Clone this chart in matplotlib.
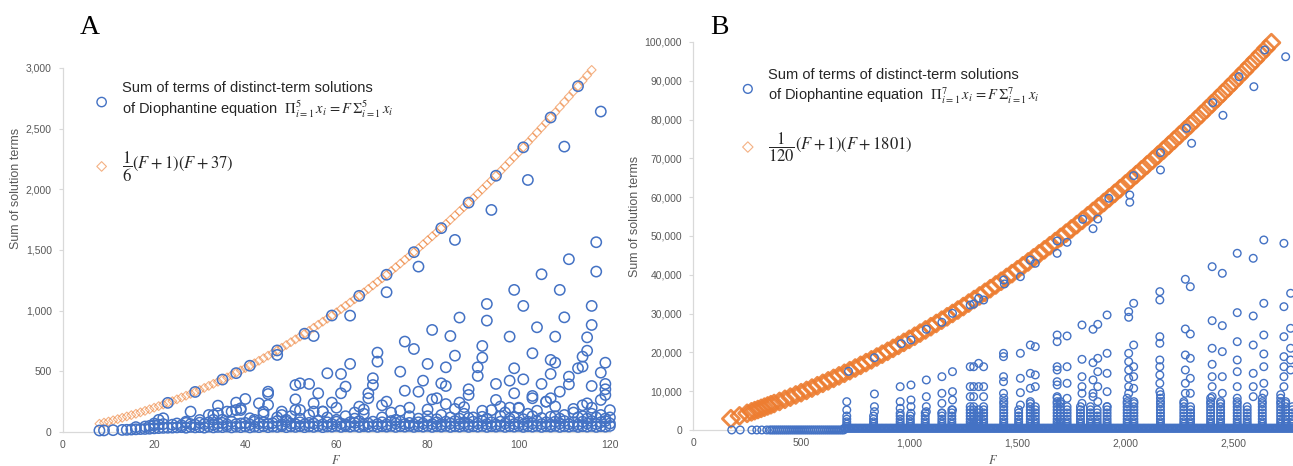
import numpy as np
import matplotlib
matplotlib.use("Agg")
import matplotlib.pyplot as plt
from matplotlib.ticker import FuncFormatter

plt.rcParams["font.family"] = ["Liberation Sans", "DejaVu Sans"]
plt.rcParams["mathtext.fontset"] = "stix"

BLUE = "#4472C4"
ORANGE = "#ED7D31"
GREY = "#595959"
AXIS = "#D9D9D9"
nan = np.nan

# ---------------- panel A (5 terms) ----------------
# orange diamonds: (F+1)(F+37)/6 for F = 8..116
a_curve_F = list(range(8, 117))
a_curve_sum = [68, 77, 86, 96, 106, 117, 128, 139, 150, 162,
               174, 187, 200, 213, 226, 240, 254, 269, 284, 299,
               314, 330, 346, 363, 380, 397, 414, 432, 450, 469,
               488, 507, 526, 546, 566, 587, 608, 629, 650, 672,
               694, 717, 740, 763, 786, 810, 834, 859, 884, 909,
               934, 960, 986, 1013, 1040, 1067, 1094, 1122, 1150, 1179,
               1208, 1237, 1266, 1296, 1326, 1357, 1388, 1419, 1450, 1482,
               1514, 1547, 1580, 1613, 1646, 1680, 1714, 1749, 1784, 1819,
               1854, 1890, 1926, 1963, 2000, 2037, 2074, 2112, 2150, 2189,
               2228, 2267, 2306, 2346, 2386, 2427, 2468, 2509, 2550, 2592,
               2634, 2677, 2720, 2763, 2806, 2850, 2894, 2939, 2984]

# dense band of small sums, F = 8..120
a_band_F = list(range(8, 121))
a_band_low = [12, 13, nan, 15, nan, 17, 18, 20, 22, 24,
              25, 27, 30, 32, 34, 35, 36, 38, 40, 35,
              42, 38, 40, 36, 44, 38, 42, 40, 45, 38,
              44, 40, 46, 38, 44, 40, 48, 40, 45, 42,
              48, 40, 46, 42, 48, 40, 46, 42, 50, 40,
              46, 44, 50, 42, 48, 44, 50, 42, 48, 44,
              50, 42, 48, 44, 50, 42, 48, 44, 50, 42,
              48, 44, 50, 42, 48, 44, 50, 42, 48, 44,
              50, 42, 48, 44, 50, 42, 48, 44, 50, 42,
              48, 44, 50, 42, 48, 44, 50, 42, 48, 44,
              50, 42, 48, 44, 50, 42, 48, 44, 50, 42,
              48, 44, 50]
a_band_mid = [nan, nan, nan, nan, nan, nan, nan, nan, 40, nan,
              45, 50, 55, 60, 65, nan, 60, 70, 55, 75,
              65, 60, 77, 65, 80, 60, 70, 75, 62, 85,
              65, 70, 75, 62, 85, 70, 80, 65, 72, 90,
              62, 85, 70, 65, 80, 62, 75, 70, 90, 62,
              80, 66, 85, 70, 62, 80, 75, 90, 62, 70,
              85, 65, 80, 62, 90, 70, 85, 65, 75, 62,
              80, 70, 90, 65, 80, 62, 85, 70, 90, 65,
              80, 62, 85, 70, 90, 65, 80, 62, 85, 70,
              90, 65, 80, 62, 85, 70, 90, 65, 80, 62,
              85, 70, 90, 65, 80, 62, 85, 70, 90, 65,
              80, 90, 70]
a_band_top = [nan, nan, nan, nan, nan, nan, nan, nan, nan, nan,
              nan, nan, 70, 100, 113, nan, nan, nan, nan, 85,
              nan, nan, 99, nan, 140, 100, 154, 101, 168, nan,
              181, 195, nan, 113, 100, nan, 145, nan, nan, 120,
              140, 100, 130, 181, 110, nan, 140, 168, nan, 168,
              120, nan, 100, nan, 130, nan, 110, nan, 150, nan,
              nan, nan, 120, nan, 160, 100, nan, nan, 130, nan,
              110, nan, 130, nan, 105, 140, nan, 120, nan, 110,
              150, 115, 120, nan, 125, 110, 180, nan, 130, 160,
              110, 120, 200, 105, 150, 130, nan, 115, 250, 125,
              130, 110, 140, nan, 160, 120, 130, 110, 150, 120,
              140, 110, 120]

# scattered larger sums
a_pt_F = [23, 29, 35, 38, 41, 47, 53, 59, 65, 71,
          77, 83, 89, 95, 101, 107, 113, 47, 94, 102,
          110, 118, 28, 34, 33, 37, 38, 40, 39, 45,
          45, 45, 44, 51, 52, 54, 52, 55, 56, 58,
          57, 48, 43, 51, 86, 117, 111, 117, 105, 78,
          71, 63, 55, 99, 109, 101, 116, 93, 93, 87,
          110, 104, 116, 81, 85, 98, 108, 115, 75, 77,
          92, 69, 69, 86, 92, 103, 115, 114, 63, 80,
          107, 108, 119, 84, 91, 91, 99, 113, 114, 111,
          118, 61, 74, 101, 107, 116, 62, 68, 68, 79,
          83, 84, 95, 98, 105, 111, 119, 67, 67, 75,
          78, 89, 89, 103, 99, 109, 119, 59, 61, 65,
          71, 81, 82, 87, 95, 103, 106, 107, 115, 119,
          118, 60, 66, 70, 76, 80, 84, 88, 92, 96,
          100, 104, 108, 112, 116, 120, 74, 86, 98, 114,
          64]
a_pt_sum = [240, 330, 432, 485, 546, 672, 810, 960, 1122, 1296,
            1482, 1680, 1890, 2112, 2346, 2592, 2850, 635, 1830, 2077,
            2352, 2641, 168, 217, 140, 168, 242, 272, 181, 332,
            313, 223, 168, 269, 401, 396, 181, 236, 319, 484,
            168, 168, 236, 387, 1583, 1564, 1424, 1322, 1300, 1363,
            1152, 959, 791, 1171, 1171, 1039, 1039, 1055, 918, 943,
            945, 863, 882, 841, 791, 786, 786, 780, 745, 684,
            709, 654, 580, 629, 613, 649, 670, 621, 561, 561,
            594, 571, 571, 533, 533, 462, 525, 525, 539, 456,
            489, 478, 497, 434, 478, 379, 374, 387, 443, 423,
            401, 379, 396, 423, 396, 393, 396, 319, 278, 340,
            332, 352, 305, 297, 319, 332, 305, 242, 319, 209,
            250, 269, 278, 242, 264, 278, 250, 278, 236, 352,
            264, 200, 185, 220, 200, 185, 230, 205, 175, 210,
            195, 175, 210, 190, 200, 180, 175, 190, 200, 220,
            160]

# ---------------- panel B (7 terms) ----------------
# orange diamonds: (F+1)(F+1801)/120
b_curve_F = [175, 215, 250, 270, 285, 300, 315, 330, 345, 360, 375] + list(range(400, 2700, 25))
b_curve_sum = [2898, 3629, 4290, 4677, 4972, 5270, 5572, 5878, 6188, 6501, 6818,
               7355, 7902, 8460, 9028, 9607, 10196, 10795, 11405, 12025, 12656,
               13297, 13948, 14610, 15282, 15965, 16658, 17362, 18076, 18800, 19535,
               20280, 21036, 21802, 22578, 23365, 24162, 24970, 25788, 26617, 27456,
               28305, 29165, 30035, 30916, 31807, 32708, 33620, 34542, 35475, 36418,
               37372, 38336, 39310, 40295, 41290, 42296, 43312, 44338, 45375, 46422,
               47480, 48548, 49627, 50716, 51815, 52925, 54045, 55176, 56317, 57468,
               58630, 59802, 60985, 62178, 63382, 64596, 65820, 67055, 68300, 69556,
               70822, 72098, 73385, 74682, 75990, 77308, 78637, 79976, 81325, 82685,
               84055, 85436, 86827, 88228, 89640, 91062, 92495, 93938, 95392, 96856,
               98330, 99815]

# near-curve blue circles
b_hit_F = [719, 839, 963, 1008, 1079, 1151, 1200, 1282, 1298, 1321,
           1437, 1560, 1684, 1802, 1923, 2038, 2162, 2282, 2404, 2525,
           2644, 1344, 1440, 1514, 1583, 1730, 1684, 1872, 1850, 2020,
           2020, 2162, 2306, 2451, 2594, 2741]
b_hit_sum = [15120, 18640, 22250, 23200, 25950, 27750, 30070, 32200, 32470, 33940,
             38660, 43810, 48710, 54300, 59720, 65550, 71470, 77760, 84360, 91060,
             97940, 33500, 37630, 39510, 42960, 48370, 45530, 54380, 51880, 60570,
             58690, 67010, 73890, 81100, 88480, 96200]

# spikes: dense stacks of small sums at particular F
b_spike_F = [711, 835, 958, 1005, 1074, 1151, 1197, 1282, 1298, 1321,
             1344, 1437, 1506, 1560, 1583, 1684, 1699, 1730, 1792, 1838,
             1869, 1915, 2008, 2039, 2162, 2270, 2301, 2394, 2440, 2517,
             2563, 2633, 2718, 2741, 2772]
b_spike_top = [3600, 3600, 4000, 4000, 4800, 4800, 5600, 5600, 6400, 5600,
               6400, 8200, 5600, 7300, 6400, 8200, 7300, 6400, 6400, 6400,
               5600, 6400, 8200, 7300, 9100, 7300, 6400, 8200, 7300, 8200,
               6400, 8200, 9100, 7300, 6400]
b_stack_levels = [900, 1500, 2100, 2800, 3600, 4400, 5200, 6000, 6800, 7300, 8200, 9100]

# sparser circles above each spike
b_pt_F = [711, 711,
          839, 839, 839,
          958, 958, 958, 958,
          1008, 1008, 1008, 1008,
          1079, 1079, 1079, 1079,
          1151, 1151, 1151, 1151,
          1200, 1200, 1200, 1200,
          1282, 1282, 1282, 1282,
          1298, 1298, 1298,
          1321, 1321,
          1344, 1344, 1344,
          1436, 1436, 1436, 1436, 1436,
          1514, 1514, 1514, 1514,
          1560, 1560, 1560,
          1583, 1583, 1583,
          1684, 1684, 1684, 1684, 1684, 1684, 1684,
          1730, 1730, 1730, 1730,
          1799, 1799, 1799, 1799, 1799, 1799,
          1850, 1850, 1850, 1850, 1850,
          1872, 1872, 1872, 1872, 1872,
          1915, 1915, 1915, 1915, 1915,
          2015, 2015, 2015, 2015, 2015, 2015, 2015, 2015,
          2038, 2038, 2038, 2038, 2038,
          2159, 2159, 2159, 2159, 2159, 2159, 2159, 2159, 2159,
          2277, 2277, 2277, 2277, 2277, 2277,
          2300, 2300, 2300, 2300, 2300,
          2401, 2401, 2401, 2401, 2401, 2401, 2401,
          2448, 2448, 2448, 2448, 2448,
          2517, 2517, 2517, 2517, 2517, 2517,
          2591, 2591, 2591, 2591, 2591, 2591,
          2640, 2640, 2640, 2640, 2640, 2640, 2640,
          2733, 2733, 2733, 2733, 2733, 2733, 2733,
          2764, 2764, 2764, 2764, 2764]
b_pt_sum = [5150, 7300,
            4720, 6010, 9280,
            4300, 5590, 7300, 11170,
            4300, 6010, 7730, 11600,
            4720, 6010, 8590, 12890,
            4300, 6870, 9450, 13740,
            5150, 7730, 9880, 15030,
            6010, 8590, 11170, 16310,
            8590, 11170, 16300,
            11170, 17180,
            8590, 11170, 16300,
            9450, 12450, 13740, 18900, 19760,
            6440, 9620, 13320, 19760,
            10740, 14600, 21900,
            11170, 14180, 21470,
            8590, 11600, 12450, 15460, 16310, 22760, 24480,
            8160, 12030, 16310, 24230,
            6870, 9450, 11170, 13740, 18210, 27060,
            8590, 9450, 12890, 17350, 25950,
            7300, 11170, 15030, 18470, 27230,
            6010, 9880, 14600, 19760, 29640,
            9450, 11170, 13320, 15460, 17610, 19760, 29040, 30500,
            10740, 13740, 16310, 21900, 32650,
            9880, 12030, 14180, 16310, 18040, 22340, 24050, 33500, 35650,
            9450, 12030, 15460, 19330, 26030, 38840,
            9450, 13320, 18470, 24740, 36930,
            8590, 11170, 13740, 16930, 21060, 28170, 42090,
            9450, 13740, 20190, 26890, 40380,
            11170, 15030, 18040, 22760, 30240, 45540,
            8590, 11170, 14600, 21900, 29380, 44250,
            9450, 12030, 16310, 19590, 24480, 32650, 48970,
            11170, 13740, 16310, 18900, 24050, 31780, 48110,
            15460, 18040, 21060, 26200, 35230]

# base row of minimal sums (one solution at nearly every F)
b_base_F = [179, 218, 272, 295, 318, 341] + list(range(355, 700, 9)) + list(range(700, 2790, 6))
b_base_sum = [0] * (6 + len(range(355, 700, 9))) + [450] * len(range(700, 2790, 6))

# spike stacks expanded into individual circles
stack_F, stack_sum = [], []
for f, top in zip(b_spike_F, b_spike_top):
    for lev in b_stack_levels:
        if lev <= top:
            stack_F.append(f)
            stack_sum.append(lev)

thousands = FuncFormatter(lambda v, p: f"{v:,.0f}")

fig = plt.figure(figsize=(12.93, 4.66), dpi=100)
axA = fig.add_axes([0.0487, 0.0730, 0.4230, 0.7811])
axB = fig.add_axes([0.5360, 0.0773, 0.4640, 0.8326])


def style(ax):
    for s in ["top", "right"]:
        ax.spines[s].set_visible(False)
    for s in ["left", "bottom"]:
        ax.spines[s].set_color(AXIS)
        ax.spines[s].set_linewidth(0.9)
    ax.tick_params(axis="y", colors=AXIS, labelcolor=GREY, labelsize=7.5, length=3, pad=5)
    ax.tick_params(axis="x", colors=AXIS, labelcolor=GREY, labelsize=7.5, length=0, pad=6)
    ax.xaxis.set_major_formatter(thousands)
    ax.yaxis.set_major_formatter(thousands)
    ax.set_ylabel("Sum of solution terms", fontsize=9, color=GREY)
    ax.set_xlabel("$F$", fontsize=9, color=GREY)


def add_legend(ax, handles, labels, x, y, spacing):
    leg = ax.legend(handles, labels, loc="upper left", bbox_to_anchor=(x, y),
                    frameon=False, fontsize=10.5, labelcolor="#262626",
                    labelspacing=spacing, handlelength=2.0, handletextpad=0.4,
                    borderaxespad=0, borderpad=0)
    leg.get_texts()[1].set_fontsize(12)
    return leg


# ---- A ----
axA.scatter(a_curve_F, a_curve_sum, marker="D", s=20, facecolors="none",
            edgecolors=ORANGE, linewidths=0.8, alpha=0.6, clip_on=False, zorder=2)
circA = dict(marker="o", s=55, facecolors="none", edgecolors=BLUE, linewidths=1.1,
             clip_on=False, zorder=3)
axA.scatter(a_band_F, a_band_low, **circA)
axA.scatter(a_band_F, a_band_mid, **circA)
axA.scatter(a_band_F, a_band_top, **circA)
axA.scatter(a_pt_F, a_pt_sum, **circA)
hA = axA.scatter([], [], marker="D", s=24, facecolors="none", edgecolors=ORANGE,
                 linewidths=0.8, alpha=0.6)
sA_leg = axA.scatter([], [], marker="o", s=45, facecolors="none", edgecolors=BLUE, linewidths=1.0)
axA.set_xlim(0, 120)
axA.set_ylim(0, 3000)
axA.set_xticks(range(0, 121, 20))
axA.set_yticks(range(0, 3001, 500))
style(axA)
axA.yaxis.set_label_coords(-0.075, 0.67)
axA.xaxis.set_label_coords(0.5, -0.06)
add_legend(axA, [sA_leg, hA],
           ["Sum of terms of distinct-term solutions\n"
            r"of Diophantine equation  $\Pi_{i=1}^{5}\,x_i\,=F\,\Sigma_{i=1}^{5}\,x_i$",
            r"$\dfrac{1}{6}(F+1)(F+37)$"],
           0.044, 0.964, 2.1)

# ---- B ----
axB.scatter(b_curve_F, b_curve_sum, marker="D", s=75, facecolors="none",
            edgecolors=ORANGE, linewidths=2.0, alpha=0.9, clip_on=False, zorder=2)
circB = dict(marker="o", s=30, facecolors="none", edgecolors=BLUE, linewidths=1.0,
             clip_on=False, zorder=3)
axB.scatter(b_base_F, b_base_sum, **circB)
axB.scatter(stack_F, stack_sum, **circB)
axB.scatter(b_pt_F, b_pt_sum, **circB)
axB.scatter(b_hit_F, b_hit_sum, **circB)
hB = axB.scatter([], [], marker="D", s=28, facecolors="none", edgecolors=ORANGE,
                 linewidths=0.8, alpha=0.6)
sB_leg = axB.scatter([], [], marker="o", s=40, facecolors="none", edgecolors=BLUE, linewidths=1.0)
axB.set_xlim(0, 2775)
axB.set_ylim(0, 100000)
axB.set_xticks(range(0, 2501, 500))
axB.set_yticks(range(0, 100001, 10000))
style(axB)
axB.yaxis.set_label_coords(-0.087, 0.55)
axB.xaxis.set_label_coords(0.5, -0.062)
add_legend(axB, [sB_leg, hB],
           ["Sum of terms of distinct-term solutions\n"
            r"of Diophantine equation  $\Pi_{i=1}^{7}\,x_i\,=F\,\Sigma_{i=1}^{7}\,x_i$",
            r"$\dfrac{1}{120}(F+1)(F+1801)$"],
           0.067, 0.932, 1.7)

fig.text(0.062, 0.94, "A", fontsize=20, family="Liberation Serif", va="center")
fig.text(0.549, 0.94, "B", fontsize=20, family="Liberation Serif", va="center")

fig.savefig("out.png", dpi=100)
